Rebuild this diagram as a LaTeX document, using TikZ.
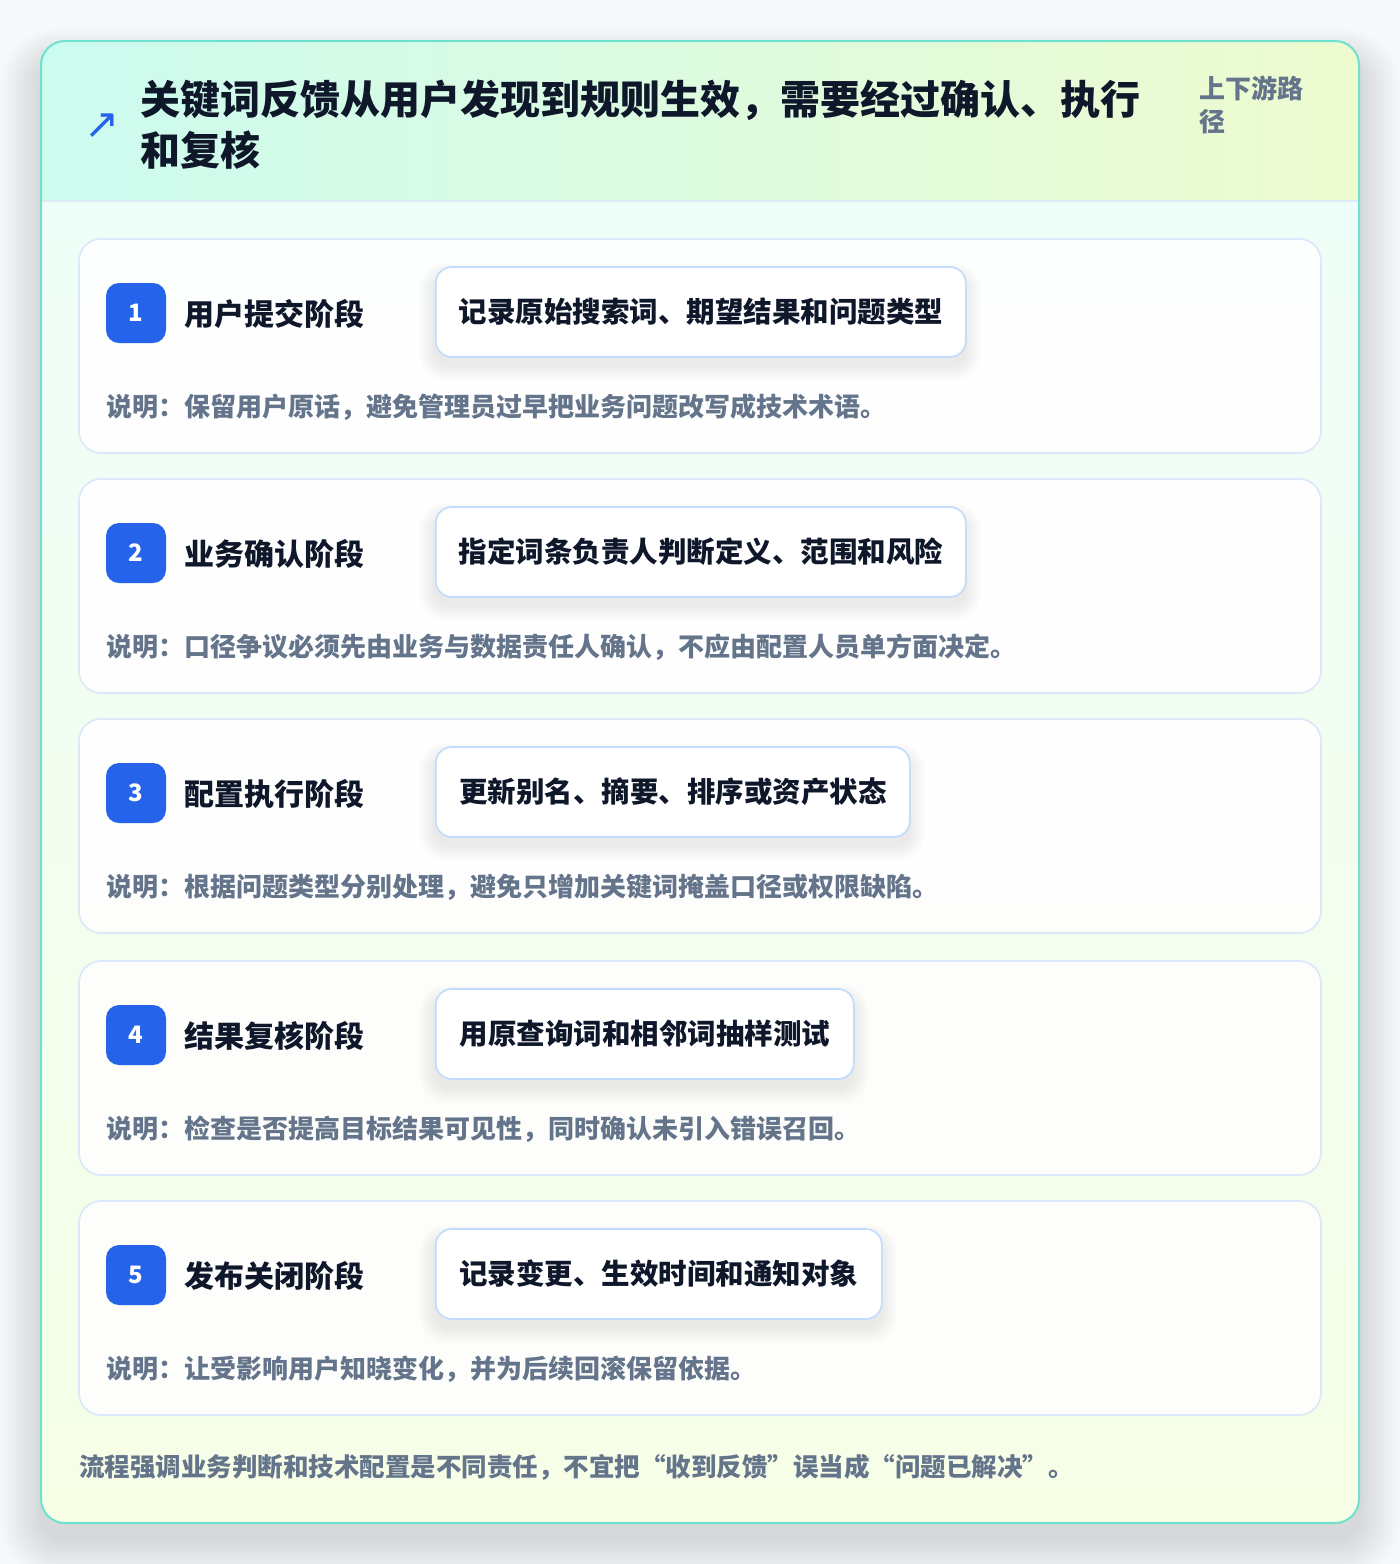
\documentclass[tikz,border=0pt]{standalone}
\usepackage{fontspec}
\setmainfont{Noto Sans CJK SC}
\newfontfamily\symfont{DejaVu Sans}
\definecolor{pagebg}{HTML}{F7F8FA}
\definecolor{mainborder}{HTML}{6EE2CF}
\definecolor{headl}{HTML}{CCFBEF}
\definecolor{headr}{HTML}{EEFBCF}
\definecolor{bodyt}{HTML}{EFFDF8}
\definecolor{bodyb}{HTML}{F6FEE6}
\definecolor{sepline}{HTML}{DCEBF5}
\definecolor{cardborder}{HTML}{DBE8FA}
\definecolor{boxborder}{HTML}{BFDBFE}
\definecolor{badgeblue}{HTML}{2563EB}
\definecolor{ink}{HTML}{0F172A}
\definecolor{muted}{HTML}{64748B}
\tikzset{
  stagecard/.style={draw=cardborder, line width=1.6pt, fill=white, fill opacity=0.88, rounded corners=22},
  badgebox/.style={fill=badgeblue, rounded corners=13, minimum width=60, minimum height=60, inner sep=0, text=white, font=\fontsize{24}{28}\selectfont\bfseries},
  stagetitle/.style={anchor=west, inner sep=0, text=ink, font=\fontsize{30}{36}\selectfont\bfseries},
  actionbox/.style={draw=boxborder, line width=1.6pt, fill=white, rounded corners=16, minimum height=90, inner sep=0, anchor=west, text=ink, font=\fontsize{28.5}{34}\selectfont\bfseries},
  desctext/.style={anchor=west, inner sep=0, text=muted, font=\fontsize{26}{32}\selectfont\bfseries},
}
\begin{document}
\begin{tikzpicture}[x=1pt,y=-1pt]
\useasboundingbox (0,0) rectangle (1400,1564);
\fill[pagebg] (0,0) rectangle (1400,1564);
% soft shadow of the main card
\foreach \i in {1,...,16}{
  \pgfmathsetmacro{\rr}{24+\i*2}
  \fill[black, opacity=0.007, rounded corners=\rr] (41-\i*2.5, 41-\i*2+20) rectangle (1359+\i*2.5, 1523+\i*2.5+16);
}
% main card
\begin{scope}
  \clip[rounded corners=24] (41,41) rectangle (1359,1523);
  \shade[top color=bodyt, bottom color=bodyb] (41,201) rectangle (1359,1523);
  \shade[left color=headl, right color=headr] (41,41) rectangle (1359,201);
  \draw[sepline, line width=2pt] (41,201) -- (1359,201);
\end{scope}
\draw[mainborder, line width=2pt, rounded corners=24] (41,41) rectangle (1359,1523);
% header
\node[inner sep=0, text=badgeblue, font=\symfont\fontsize{42}{42}\selectfont] (icon) at (102,126) {↗};
\node[anchor=north west, inner sep=0, text=ink, align=left, font=\fontsize{40}{51}\selectfont\bfseries] (title) at (140,80) {关键词反馈从用户发现到规则生效，需要经过确认、执行\\和复核};
\node[anchor=north west, inner sep=0, text=muted, align=left, font=\fontsize{26}{33}\selectfont\bfseries] (tag) at (1199,76) {上下游路\\径};
% stage cards
\foreach \t/\n/\w/\s/\b/\d in {
 239/1/530/用户提交阶段/记录原始搜索词、期望结果和问题类型/说明：保留用户原话，避免管理员过早把业务问题改写成技术术语。,
 479/2/530/业务确认阶段/指定词条负责人判断定义、范围和风险/说明：口径争议必须先由业务与数据责任人确认，不应由配置人员单方面决定。,
 719/3/474/配置执行阶段/更新别名、摘要、排序或资产状态/说明：根据问题类型分别处理，避免只增加关键词掩盖口径或权限缺陷。,
 961/4/418/结果复核阶段/用原查询词和相邻词抽样测试/说明：检查是否提高目标结果可见性，同时确认未引入错误召回。,
 1201/5/446/发布关闭阶段/记录变更、生效时间和通知对象/说明：让受影响用户知晓变化，并为后续回滚保留依据。}{
  \draw[stagecard] (79,\t) rectangle (1321,\t+214);
  \foreach \k in {1,...,10}{
    \fill[black, opacity=0.006, rounded corners=16+\k] (435-\k*1.6, \t+28-\k*1.2+8) rectangle (435+\w+\k*1.6, \t+118+\k*1.6+8);
  }
  \node[badgebox] (badge\n) at (136,\t+74) {\n};
  \node[stagetitle] (stage\n) at (184,\t+75) {\s};
  \node[actionbox, minimum width=\w] (action\n) at (435,\t+73) {\b};
  \node[desctext] (desc\n) at (106,\t+168) {\d};
}
\node[anchor=west, inner sep=0, text=muted, font=\fontsize{25.5}{30}\selectfont\bfseries] (note) at (79,1467) {流程强调业务判断和技术配置是不同责任，不宜把“收到反馈”误当成“问题已解决”。};
\end{tikzpicture}
\end{document}
